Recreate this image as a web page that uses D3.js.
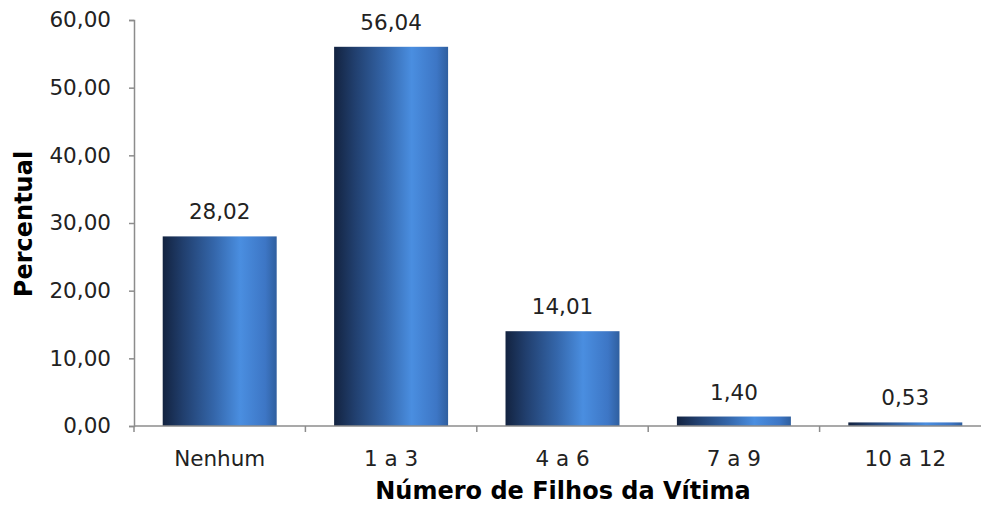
<!DOCTYPE html>
<html>
<head>
<meta charset="utf-8">
<script src="https://cdn.jsdelivr.net/npm/d3@7"></script>
<style>
  body { margin: 0; background: #fff; }
  svg { display: block; }
</style>
</head>
<body>
<svg id="chart"></svg>
<script>
'use strict'
// dados
const categorias = ['Nenhum', '1 a 3', '4 a 6', '7 a 9', '10 a 12']
const percentual = [28.02, 56.04, 14.01, 1.40, 0.53]
const yTicks = [0, 10, 20, 30, 40, 50, 60]

const width = 981, height = 506
const margin = {top: 20, right: -10, bottom: 80, left: 134}

const svg = d3.select('#chart').attr('width', width).attr('height', height)
const font = 'Verdana, "DejaVu Sans", sans-serif'
const fmt = v => d3.format('.2f')(v).replace('.', ',')

const x = d3.scaleBand()
    .domain(categorias)
    .range([margin.left, width - margin.right])
    .paddingInner(0.335)
    .paddingOuter(0.1675)

const y = d3.scaleLinear()
    .domain([0, 60])
    .range([height - margin.bottom, margin.top])

// gradiente das barras
const grad = svg.append('defs').append('linearGradient')
    .attr('id', 'barGrad')
    .attr('x1', '0%').attr('x2', '100%').attr('y1', '0%').attr('y2', '0%')
grad.append('stop').attr('offset', '0%').attr('stop-color', '#132340')
grad.append('stop').attr('offset', '18%').attr('stop-color', '#213f6e')
grad.append('stop').attr('offset', '45%').attr('stop-color', '#3466aa')
grad.append('stop').attr('offset', '68%').attr('stop-color', '#4a8ee0')
grad.append('stop').attr('offset', '90%').attr('stop-color', '#3d76c5')
grad.append('stop').attr('offset', '100%').attr('stop-color', '#2f5f9f')

// eixo y
const yAxis = svg.append('g')
    .attr('transform', 'translate(' + margin.left + ',0)')
    .call(d3.axisLeft(y).tickValues(yTicks).tickFormat(fmt).tickSize(5).tickPadding(18))
yAxis.select('.domain').attr('stroke', '#8c8c8c').attr('stroke-width', 1.5)
yAxis.selectAll('.tick line').attr('stroke', '#8c8c8c').attr('stroke-width', 1.5)
yAxis.selectAll('.tick text')
    .attr('font-family', font).attr('font-size', 21.5).attr('fill', '#222')

// barras
svg.selectAll('.bar')
    .data(percentual)
    .enter().append('rect')
    .attr('class', 'bar')
    .attr('x', (d, i) => x(categorias[i]))
    .attr('y', d => y(d))
    .attr('width', x.bandwidth())
    .attr('height', d => y(0) - y(d))
    .attr('fill', 'url(#barGrad)')

// rótulos
svg.selectAll('.label')
    .data(percentual)
    .enter().append('text')
    .attr('class', 'label')
    .attr('x', (d, i) => x(categorias[i]) + x.bandwidth() / 2)
    .attr('y', d => y(d) - 17)
    .attr('text-anchor', 'middle')
    .attr('font-family', font).attr('font-size', 21.5).attr('fill', '#222')
    .text(fmt)

// eixo x
const xg = svg.append('g').attr('transform', 'translate(0,' + y(0) + ')')
xg.append('line')
    .attr('x1', margin.left).attr('x2', width)
    .attr('stroke', '#8c8c8c').attr('stroke-width', 1.5)
xg.selectAll('.xtick')
    .data(categorias)
    .enter().append('line')
    .attr('x1', d => x(d) - x.step() * x.paddingInner() / 2)
    .attr('x2', d => x(d) - x.step() * x.paddingInner() / 2)
    .attr('y1', 0).attr('y2', 6)
    .attr('stroke', '#8c8c8c').attr('stroke-width', 1.5)
xg.selectAll('.xlabel')
    .data(categorias)
    .enter().append('text')
    .attr('x', d => x(d) + x.bandwidth() / 2)
    .attr('y', 40)
    .attr('text-anchor', 'middle')
    .attr('font-family', font).attr('font-size', 21.5).attr('fill', '#222')
    .text(d => d)

// títulos
svg.append('text')
    .attr('x', 563).attr('y', 499)
    .attr('text-anchor', 'middle')
    .attr('font-family', font).attr('font-size', 24).attr('font-weight', 'bold')
    .text('Número de Filhos da Vítima')
svg.append('text')
    .attr('transform', 'translate(32,224) rotate(-90)')
    .attr('text-anchor', 'middle')
    .attr('font-family', font).attr('font-size', 24).attr('font-weight', 'bold')
    .text('Percentual')
</script>
</body>
</html>
